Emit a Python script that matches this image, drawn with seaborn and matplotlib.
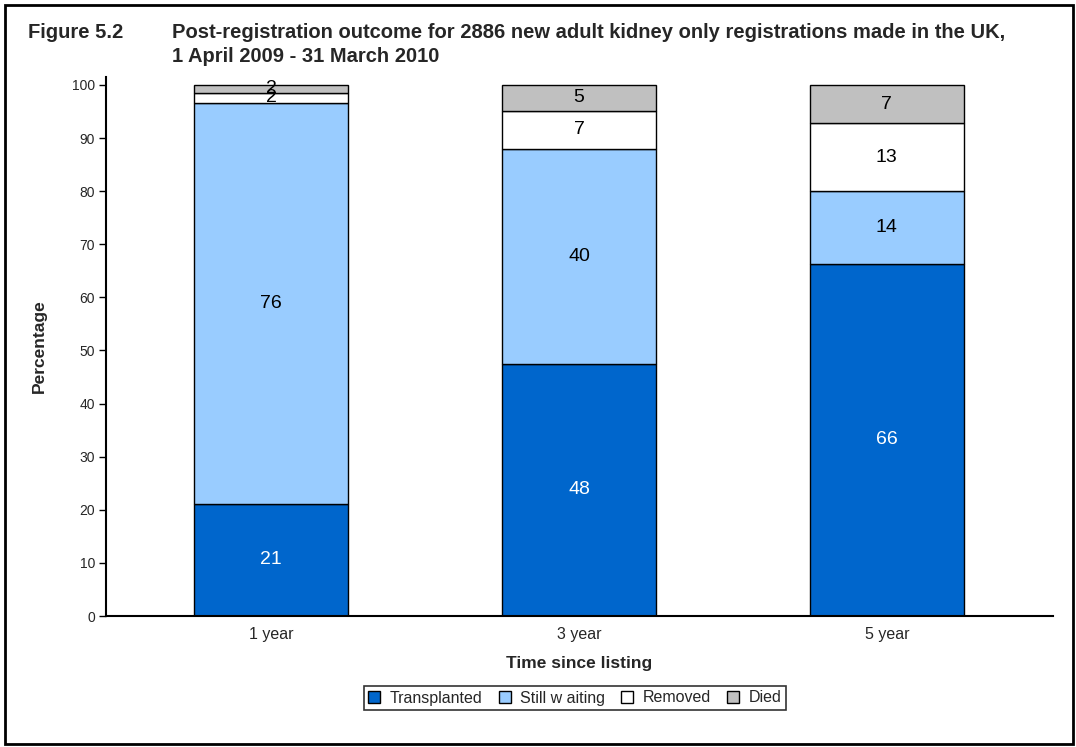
import numpy as np
import pandas as pd
import matplotlib
matplotlib.use("Agg")
import matplotlib.pyplot as plt
from matplotlib.patches import Rectangle
import seaborn as sns

# datos (porcentaje)
periodos = ["1 year", "3 year", "5 year"]
transplanted = [21.1, 47.5, 66.3]
still_waiting = [75.5, 40.5, 13.7]
removed = [1.9, 7.1, 12.8]
died = [1.5, 4.9, 7.2]

series = ["Transplanted", "Still w aiting", "Removed", "Died"]
colores = ["#0066CC", "#99CCFF", "#FFFFFF", "#C0C0C0"]
colores_texto = ["white", "black", "black", "black"]

sns.set_style("white")
plt.rcParams['font.family'] = ['Liberation Sans', 'DejaVu Sans']

fig = plt.figure(figsize=(10.76, 7.47), dpi=100)
ax = fig.add_axes([106 / 1076, 1 - 616 / 747, (1053 - 106) / 1076, (616 - 77) / 747])

df = pd.DataFrame({"Periodo": periodos, "Transplanted": transplanted,
                   "Still w aiting": still_waiting, "Removed": removed, "Died": died})

base = np.zeros(len(periodos))
for serie, color, ctexto in zip(series, colores, colores_texto):
    sns.barplot(data=df, x="Periodo", y=serie, order=periodos, color=color, saturation=1,
                width=0.5, bottom=base, edgecolor="black", linewidth=1, label=serie, ax=ax)
    cont = ax.containers[-1]
    ax.bar_label(cont, labels=[f"{v:.0f}" for v in df[serie]], label_type="center",
                 color=ctexto, fontsize=14)
    base = base + df[serie].values

ax.set_xlim(-0.537, 2.54)
ax.set_ylim(0, 101.5)
ax.set_yticks(range(0, 101, 10))
ax.tick_params(axis="y", left=True, length=5, width=1, color="black", labelsize=10, pad=3)
ax.tick_params(axis="x", bottom=False, length=0, labelsize=11.5, pad=8)
for lado in ["top", "right"]:
    ax.spines[lado].set_visible(False)
for lado in ["left", "bottom"]:
    ax.spines[lado].set_color("black")
    ax.spines[lado].set_linewidth(1.5)

ax.set_xlabel("Time since listing", fontsize=12.5, fontweight="bold", labelpad=10)
ax.set_ylabel("Percentage", fontsize=12.5, fontweight="bold", labelpad=18)

leg = ax.legend(loc="center", bbox_to_anchor=(575 / 1076, 1 - 698 / 747),
                bbox_transform=fig.transFigure, ncol=4, frameon=True, fancybox=False,
                fontsize=11.5, handlelength=0.75, handleheight=0.75, handletextpad=0.6,
                columnspacing=1.0, borderpad=0.3, borderaxespad=0)
leg.get_frame().set_edgecolor("black")
leg.get_frame().set_linewidth(1.2)

fig.text(28 / 1076, 1 - 32 / 747, "Figure 5.2", fontsize=14.5, fontweight="bold", va="center")
fig.text(172 / 1076, 1 - 32 / 747,
         "Post-registration outcome for 2886 new adult kidney only registrations made in the UK,",
         fontsize=14.5, fontweight="bold", va="center")
fig.text(172 / 1076, 1 - 57 / 747, "1 April 2009 - 31 March 2010",
         fontsize=14.5, fontweight="bold", va="center")

fig.patches.append(Rectangle((5 / 1076, 3 / 747), 1068 / 1076, 739 / 747, transform=fig.transFigure,
                             fill=False, edgecolor="black", linewidth=2))

plt.savefig("out.png", dpi=100)
